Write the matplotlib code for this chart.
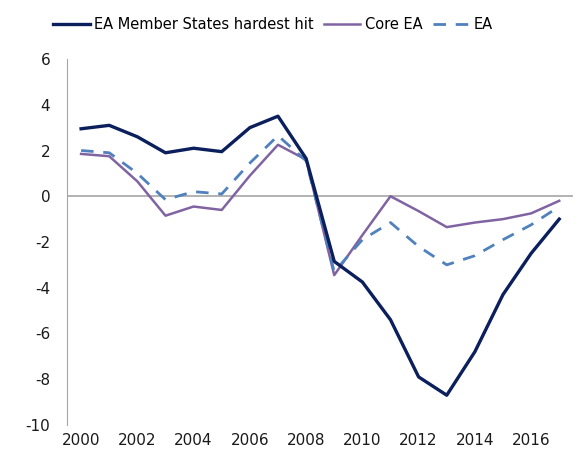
import matplotlib.pyplot as plt

years = list(range(2000, 2018))
hardest_hit = [2.95, 3.1, 2.6, 1.9, 2.1, 1.95, 3.0, 3.5, 1.65, -2.85, -3.75,
               -5.4, -7.9, -8.7, -6.8, -4.3, -2.5, -1.0]
core_ea = [1.85, 1.75, 0.65, -0.85, -0.45, -0.6, 0.9, 2.25, 1.6, -3.45, -1.7,
           0.0, -0.65, -1.35, -1.15, -1.0, -0.75, -0.2]
ea = [2.0, 1.9, 1.0, -0.15, 0.2, 0.1, 1.45, 2.65, 1.55, -3.3, -1.9,
      -1.15, -2.2, -3.0, -2.6, -1.9, -1.25, -0.45]
yticks = list(range(-10, 7, 2))
xticks = list(range(2000, 2017, 2))

plt.rcParams['font.family'] = ['DejaVu Sans']
plt.rcParams['axes.unicode_minus'] = False
fig = plt.figure(figsize=(5.88, 4.54), dpi=100)
ax = fig.add_axes([0.114, 0.064, 0.861, 0.806])

ax.axhline(0, color='#a6a6a6', linewidth=1.2, zorder=1)
ax.plot(years, hardest_hit, color='#0a1f5c', linewidth=2.4, label='EA Member States hardest hit', zorder=3)
ax.plot(years, core_ea, color='#8064a2', linewidth=1.8, label='Core EA', zorder=2)
ax.plot(years, ea, color='#4f81bd', linewidth=2.0, linestyle=(0, (4.5, 3.5)), label='EA', zorder=2)

ax.set_xlim(1999.5, 2017.5)
ax.set_ylim(-10, 6)
ax.set_yticks(yticks)
ax.set_xticks(xticks)
ax.tick_params(axis='both', length=0, labelsize=11, colors='#1a1a1a')
ax.tick_params(axis='x', pad=6)
ax.tick_params(axis='y', pad=12)
for s in ['top', 'right', 'bottom']:
    ax.spines[s].set_visible(False)
ax.spines['left'].set_color('#a6a6a6')

fig.legend(loc='center', bbox_to_anchor=(0.464, 0.945), ncol=3, frameon=False,
           fontsize=10.5, handlelength=2.5, handletextpad=0.3, columnspacing=0.7,
           borderpad=0, borderaxespad=0)

fig.savefig('out.png', dpi=100)
